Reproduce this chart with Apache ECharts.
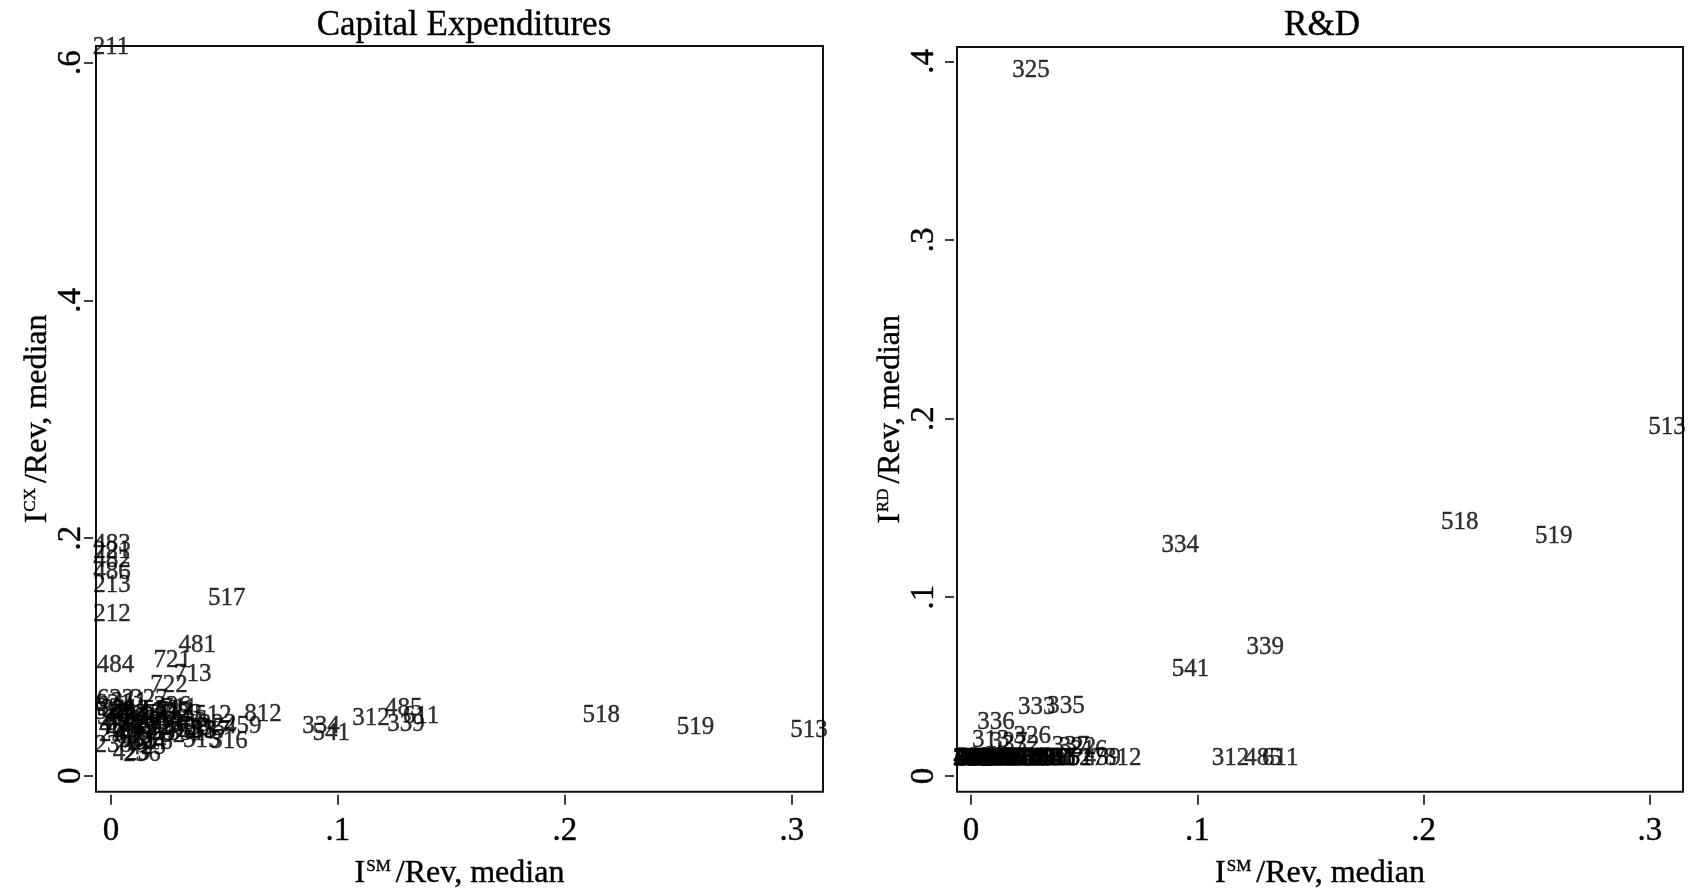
<!DOCTYPE html>
<html>
<head>
<meta charset="utf-8">
<script src="https://cdn.jsdelivr.net/npm/echarts@6/dist/echarts.min.js"></script>
<style>
  html, body { margin: 0; padding: 0; background: #fff; }
  #chart { width: 1690px; height: 895px; }
</style>
</head>
<body>
<div id="chart"></div>
<script>
// industry codes (NAICS 3-digit)
const codes = ['211','483','221','482','486','213','212',
  '517','484','481','721','713','722','812',
  '334','541','312','485','339','611',
  '518','519','513',
  '325','333','335','336','326','337','313','316','315','516',
  '236','238','423','621','311','327','512','322','459','424',
  '531','562','441','332','331','321','324','237','444','445',
  '488','492','493','522','523','524','532','561','622','623',
  '624','711','712','811','813','455','456','457','458','449',
  '314','323','425','533','551']

// I^SM / Rev, median
const smShare = [0.000, 0.0005, 0.0005, 0.0005, 0.0005, 0.0005, 0.0005,
  0.051, 0.002, 0.038, 0.027, 0.036, 0.0256, 0.067,
  0.0925, 0.097, 0.1146, 0.129, 0.130, 0.1366,
  0.216, 0.2575, 0.3075,
  0.0265, 0.029, 0.042, 0.011, 0.027, 0.044, 0.0087, 0.052, 0.040, 0.019,
  0.0137, 0.001, 0.009, 0.001, 0.008, 0.0167, 0.045, 0.047, 0.058, 0.006,
  0.001, 0.002, 0.004, 0.022, 0.006, 0.004, 0.002, 0.003, 0.010, 0.012,
  0.006, 0.014, 0.008, 0.018, 0.020, 0.030, 0.022, 0.012, 0.002, 0.010,
  0.016, 0.030, 0.028, 0.018, 0.024, 0.020, 0.034, 0.003, 0.035, 0.026,
  0.014, 0.032, 0.016, 0.038, 0.033]

// I^CX / Rev, median
const cxShare = [0.613, 0.195, 0.189, 0.181, 0.171, 0.160, 0.136,
  0.149, 0.093, 0.110, 0.097, 0.0855, 0.076, 0.052,
  0.042, 0.036, 0.0486, 0.057, 0.0435, 0.0498,
  0.0507, 0.041, 0.0386,
  0.053, 0.045, 0.040, 0.047, 0.058, 0.037, 0.055, 0.029, 0.030, 0.0285,
  0.018, 0.026, 0.019, 0.060, 0.062, 0.064, 0.051, 0.043, 0.042, 0.038,
  0.053, 0.049, 0.045, 0.050, 0.044, 0.056, 0.057, 0.035, 0.035, 0.040,
  0.050, 0.045, 0.052, 0.040, 0.036, 0.034, 0.055, 0.030, 0.064, 0.033,
  0.028, 0.057, 0.054, 0.048, 0.043, 0.052, 0.047, 0.041, 0.040, 0.038,
  0.050, 0.052, 0.024, 0.038, 0.036]

// I^RD / Rev, median
const rdShare = [0.0095, 0.0095, 0.0095, 0.0095, 0.0095, 0.0095, 0.0095,
  0.0095, 0.0095, 0.0095, 0.0095, 0.0095, 0.0095, 0.0095,
  0.129, 0.0595, 0.0095, 0.0095, 0.072, 0.0095,
  0.1418, 0.134, 0.195,
  0.395, 0.0385, 0.039, 0.030, 0.022, 0.0167, 0.020, 0.0145, 0.0095, 0.0095,
  0.0095, 0.0095, 0.0095, 0.0095, 0.0095, 0.019, 0.0095, 0.016, 0.0095, 0.0095,
  0.0095, 0.0095, 0.0095, 0.017, 0.0095, 0.0095, 0.0095, 0.0095, 0.0095, 0.0095,
  0.0095, 0.0095, 0.0095, 0.0095, 0.0095, 0.0095, 0.0095, 0.0095, 0.0095, 0.0095,
  0.0095, 0.0095, 0.0095, 0.0095, 0.0095, 0.0095, 0.0095, 0.0095, 0.0095, 0.0095,
  0.0095, 0.0095, 0.0095, 0.0095, 0.0095]

// tick labels
const xTicks = [0, 0.1, 0.2, 0.3]
const cxTicks = [0, 0.2, 0.4, 0.6]
const rdTicks = [0, 0.1, 0.2, 0.3, 0.4]

const serif = "'Liberation Serif', 'Times New Roman', serif"

// a little stroke so the text reads as dark as the Stata export
const ink = { color: '#000', textBorderColor: '#000', textBorderWidth: 0.4 }

const fmt = v => v === 0 ? '0' : String(v).replace(/^0/, '')

const xAxisOf = (gridIndex, min, max) => ({
  type: 'value',
  gridIndex,
  min, max,
  offset: 3,
  splitLine: { show: false },
  axisLine: { show: false, onZero: false },
  axisTick: { show: true, length: 10, customValues: xTicks, lineStyle: { color: '#000', width: 1.5 } },
  axisLabel: { customValues: xTicks, formatter: fmt, margin: 20, fontSize: 33, fontFamily: serif, ...ink },
  name: '{a|I}{b|SM}{a|/Rev, median}',
  nameLocation: 'middle',
  nameGap: 63,
  nameTextStyle: {
    rich: {
      a: { fontSize: 32, fontFamily: serif, ...ink },
      b: { fontSize: 17, fontFamily: serif, ...ink, verticalAlign: 'top', padding: [0, 5, 0, 1] }
    }
  }
})

const yAxisOf = (gridIndex, min, max, ticks, sup, margin, nameGap) => ({
  type: 'value',
  gridIndex,
  min, max,
  offset: 3,
  splitLine: { show: false },
  axisLine: { show: false, onZero: false },
  axisTick: { show: true, length: 9, customValues: ticks, lineStyle: { color: '#000', width: 1.5 } },
  axisLabel: { customValues: ticks, formatter: fmt, rotate: 90, margin, fontSize: 33, fontFamily: serif, ...ink },
  name: '{a|I}{b|' + sup + '}{a|/Rev, median}',
  nameLocation: 'middle',
  nameRotate: 90,
  nameGap,
  nameTextStyle: {
    rich: {
      a: { fontSize: 32, fontFamily: serif, ...ink },
      b: { fontSize: 17, fontFamily: serif, ...ink, verticalAlign: 'top', padding: [0, 5, 0, 1] }
    }
  }
})

const labelSeries = (idx, ys) => ({
  type: 'scatter',
  xAxisIndex: idx,
  yAxisIndex: idx,
  symbolSize: 1,
  clip: false,
  itemStyle: { color: 'rgba(0,0,0,0)' },
  label: {
    show: true,
    position: 'inside',
    formatter: '{b}',
    fontSize: 25,
    fontFamily: serif,
    ...ink
  },
  emphasis: { disabled: true },
  data: codes.map((c, i) => ({ name: c, value: [smShare[i], ys[i]] }))
})

const chart = echarts.init(document.getElementById('chart'))

chart.setOption({
  animation: false,
  backgroundColor: '#fff',
  title: [
    { text: 'Capital Expenditures', left: 459, top: 3, textAlign: 'center',
      textStyle: { fontFamily: serif, fontSize: 35, fontWeight: 'normal', ...ink } },
    { text: 'R&D', left: 1317, top: 3, textAlign: 'center',
      textStyle: { fontFamily: serif, fontSize: 35, fontWeight: 'normal', ...ink } }
  ],
  grid: [
    { left: 96, top: 46, width: 727, height: 748, show: true, borderColor: '#111', borderWidth: 2, backgroundColor: '#fff' },
    { left: 957, top: 47, width: 726, height: 747, show: true, borderColor: '#111', borderWidth: 2, backgroundColor: '#fff' }
  ],
  xAxis: [
    xAxisOf(0, -0.0066, 0.3137),
    xAxisOf(1, -0.0062, 0.3146)
  ],
  yAxis: [
    yAxisOf(0, -0.0134, 0.614, cxTicks, 'CX', 5, 38),
    yAxisOf(1, -0.0089, 0.408, rdTicks, 'RD', 13, 46)
  ],
  series: [
    labelSeries(0, cxShare),
    labelSeries(1, rdShare)
  ]
})
</script>
</body>
</html>
